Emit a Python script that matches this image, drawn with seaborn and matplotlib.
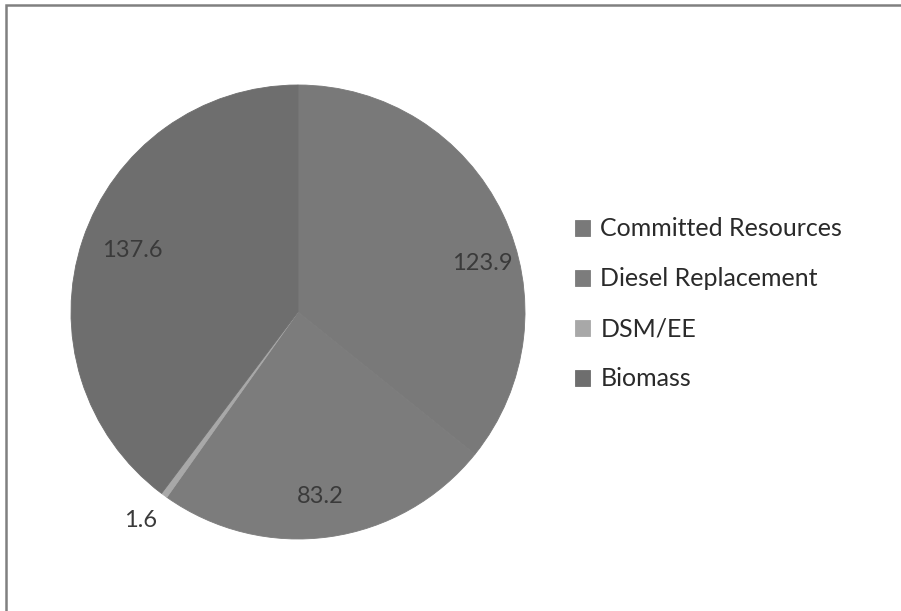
import numpy as np
import matplotlib
matplotlib.use("Agg")
import matplotlib.pyplot as plt
from matplotlib.patches import Rectangle
import seaborn as sns

# data
categories = ["Committed Resources", "Diesel Replacement", "DSM/EE", "Biomass"]
values = [123.9, 83.2, 1.6, 137.6]
value_labels = ["123.9", "83.2", "1.6", "137.6"]

colors = ["#797979", "#7c7c7c", "#a8a8a8", "#6e6e6e"]
label_dist = [0.84, 0.82, 1.15, 0.78]   # radial position of each value label
label_nudge = [-11, -1, -1, -2]         # angle nudge (deg) to mimic Excel best-fit

sns.set_theme(style="white")
plt.rcParams["font.family"] = ["Lato", "DejaVu Sans"]

fig = plt.figure(figsize=(9.01, 6.11), dpi=100)
ax = fig.add_axes([71 / 901, 72 / 611, 454 / 901, 454 / 611])

wedges, _ = ax.pie(values, colors=colors, startangle=90, counterclock=False,
                   wedgeprops=dict(linewidth=0))
# hide the antialiasing seam between the near-identical greys
for w in wedges:
    w.set_edgecolor(w.get_facecolor())
    w.set_linewidth(0.6)
ax.set_xlim(-1, 1)
ax.set_ylim(-1, 1)
ax.set_aspect("equal")
ax.axis("off")

for w, txt, d, nudge in zip(wedges, value_labels, label_dist, label_nudge):
    ang = np.deg2rad((w.theta1 + w.theta2) / 2 + nudge)
    ax.text(d * np.cos(ang), d * np.sin(ang), txt, ha="center", va="center",
            fontsize=17, color="#3a3a3a")

fig.legend(wedges, categories, loc="center left",
           bbox_to_anchor=(575 / 901, (611 - 304) / 611), frameon=False,
           borderpad=0, borderaxespad=0,
           fontsize=18, handlelength=0.6, handleheight=0.6, handletextpad=0.42,
           labelspacing=1.08, labelcolor="#2a2a2a")

# chart border (only left and top edges show in the crop)
fig.patches.append(Rectangle((6 / 901, -0.1), 1.2, (611 - 5) / 611 + 0.1,
                             transform=fig.transFigure, fill=False,
                             edgecolor="#808080", linewidth=1.8))

fig.savefig("out.png", dpi=100)
